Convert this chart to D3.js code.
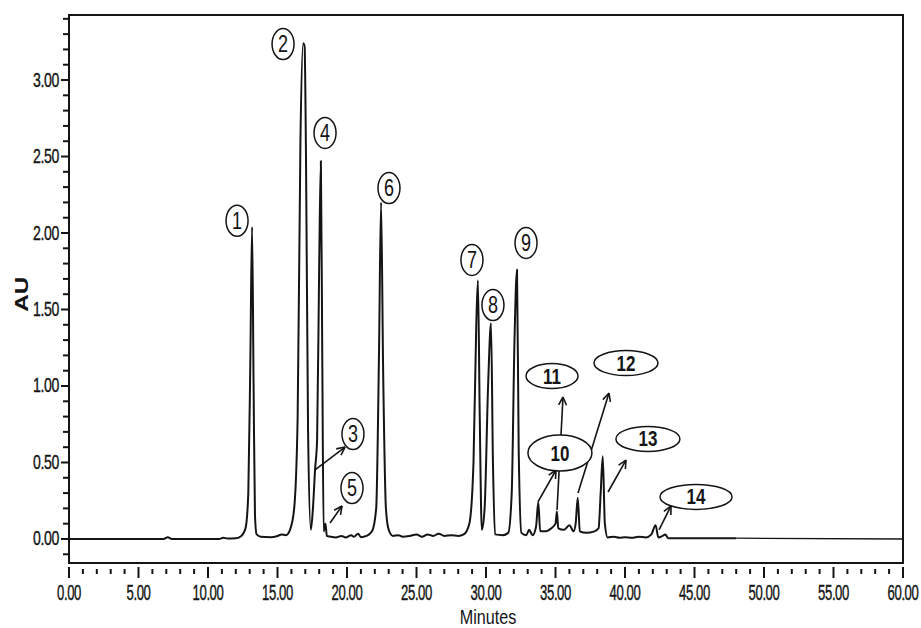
<!DOCTYPE html>
<html>
<head>
<meta charset="utf-8">
<script src="https://cdn.jsdelivr.net/npm/d3@7"></script>
<style>
  html, body { margin: 0; padding: 0; background: #fff; }
  svg { display: block; }
</style>
</head>
<body>
<svg id="chart" width="921" height="628"></svg>
<script>
// ---- Data ----
// Trace: retention time (min) and absorbance (AU)
const traceTime = [0, 6.8, 7.1, 7.4, 10.8, 11.1, 11.4, 12.0, 12.4, 12.7, 12.9, 13.05, 13.17, 13.28, 13.38, 13.5, 13.8, 14.5, 15.0, 15.3, 15.6, 15.9,
  16.2, 16.45, 16.65, 16.85, 16.95, 17.05, 17.2, 17.4, 17.55, 17.7, 17.85, 18.0, 18.12, 18.22, 18.32, 18.45, 18.55, 18.8, 19.2, 19.6, 19.9,
  20.3, 20.5, 20.8, 21.0, 21.4, 21.8, 22.1, 22.3, 22.45, 22.6, 22.8, 23.0, 23.3, 23.7, 24.0, 24.5, 25.0, 25.4, 25.8, 26.2, 26.6, 27.0, 27.5,
  28.0, 28.4, 28.8, 29.1, 29.3, 29.42, 29.55, 29.7, 29.9, 30.15, 30.36, 30.5, 30.65, 31.2, 31.6, 31.85, 32.05, 32.23, 32.35, 32.55, 32.9,
  33.1, 33.35, 33.6, 33.76, 33.9, 34.3, 34.7, 35.0, 35.1, 35.2, 35.6, 36.0, 36.3, 36.45, 36.6, 36.75, 37.2, 37.8, 38.1, 38.25, 38.4, 38.55,
  38.75, 39.2, 39.6, 40.0, 40.5, 41.0, 41.5, 41.9, 42.2, 42.4, 42.7, 42.9, 43.1, 48.0];
const traceAU = [0, 0, 0.012, 0, 0, 0.008, 0.003, 0.005, 0.02, 0.07, 0.3, 1.2, 2.04, 1.0, 0.15, 0.03, 0.015, 0.012, 0.02, 0.03, 0.025, 0.06,
  0.2, 0.8, 2.6, 3.24, 3.22, 2.5, 0.7, 0.06, 0.2, 0.45, 0.65, 1.8, 2.47, 1.2, 0.05, 0.1, 0.02, 0.015, 0.01, 0.02, 0.01,
  0.025, 0.015, 0.035, 0.012, 0.02, 0.05, 0.2, 1.2, 2.2, 1.1, 0.2, 0.06, 0.02, 0.025, 0.015, 0.02, 0.03, 0.015, 0.03, 0.02, 0.035, 0.02, 0.025,
  0.02, 0.03, 0.1, 0.5, 1.4, 1.69, 0.8, 0.06, 0.2, 1.0, 1.41, 0.5, 0.03, 0.025, 0.04, 0.3, 1.3, 1.76, 0.6, 0.04, 0.025,
  0.06, 0.025, 0.08, 0.24, 0.05, 0.05, 0.07, 0.1, 0.18, 0.07, 0.06, 0.09, 0.05, 0.1, 0.27, 0.05, 0.04, 0.05, 0.07, 0.3, 0.54, 0.1,
  0.01, 0.015, 0.008, 0.012, 0.008, 0.015, 0.01, 0.03, 0.09, 0.01, 0.02, 0.03, 0.005, 0.005];
const tailTime = [48.0, 60.0];
const tailAU = [0.005, 0];

// Peak labels: number, label position (min, AU), arrow start and end (min, AU)
const peakIds = ["1", "2", "3", "4", "5", "6", "7", "8", "9", "10", "11", "12", "13", "14"];
const labelTime = [12.09, 15.40, 20.43, 18.42, 20.36, 23.02, 28.99, 30.50, 32.88, 35.32, 34.75, 40.07, 41.65, 45.11];
const labelAU = [2.08, 3.235, 0.686, 2.654, 0.333, 2.294, 1.824, 1.529, 1.935, 0.562, 1.065, 1.150, 0.654, 0.275];
const arrowIds = ["3", "5", "10", "11", "12", "13", "14"];
const arrowFromTime = [17.70, 18.78, 33.74, 35.11, 36.62, 38.78, 42.45];
const arrowFromAU = [0.451, 0.105, 0.242, 0.190, 0.301, 0.307, 0.059];
const arrowToTime = [19.86, 19.64, 35.04, 35.54, 38.85, 40.07, 43.31];
const arrowToAU = [0.601, 0.216, 0.451, 0.928, 0.954, 0.516, 0.216];

// Axis ticks
const xMajorTicks = [0, 5, 10, 15, 20, 25, 30, 35, 40, 45, 50, 55, 60];
const yMajorTicks = [0, 0.5, 1.0, 1.5, 2.0, 2.5, 3.0];
const xTitle = "Minutes";
const yTitle = "AU";

// ---- Drawing ----
const svg = d3.select("#chart");
const x = d3.scaleLinear().domain([0, 60]).range([69, 903]);
const y = d3.scaleLinear().domain([-0.157, 3.425]).range([563, 15]);
const ink = "#141414";
const sans = "'Liberation Sans', Arial, sans-serif";

// Frame
svg.append("rect")
  .attr("x", x(0)).attr("y", y.range()[1])
  .attr("width", x(60) - x(0)).attr("height", y.range()[0] - y.range()[1])
  .attr("fill", "none").attr("stroke", ink).attr("stroke-width", 2);

// Y axis ticks
const yMinor = d3.range(-1, 35).map(i => i / 10);
svg.append("g").selectAll("line").data(yMinor).join("line")
  .attr("x1", d => Math.abs(d * 2 - Math.round(d * 2)) < 1e-6 ? x(0) - 8 : x(0) - 6)
  .attr("x2", x(0))
  .attr("y1", d => y(d)).attr("y2", d => y(d))
  .attr("stroke", ink).attr("stroke-width", 2);
svg.append("g").selectAll("text").data(yMajorTicks).join("text")
  .attr("transform", d => `translate(${x(0) - 10},${y(d) + 6.5}) scale(0.88,1.25)`)
  .attr("text-anchor", "end")
  .attr("font-family", sans).attr("font-size", 16).attr("fill", ink)
  .attr("stroke", ink).attr("stroke-width", 0.3)
  .attr("letter-spacing", -0.4)
  .text(d => d.toFixed(2));

// X axis ticks (drawn as a separate row below the frame)
const xMinor = d3.range(0, 61);
svg.append("g").selectAll("line").data(xMinor).join("line")
  .attr("x1", d => x(d)).attr("x2", d => x(d))
  .attr("y1", d => d % 5 === 0 ? y.range()[0] + 4 : y.range()[0] + 6)
  .attr("y2", d => d % 5 === 0 ? y.range()[0] + 15 : y.range()[0] + 11)
  .attr("stroke", ink).attr("stroke-width", 2);
svg.append("g").selectAll("text").data(xMajorTicks).join("text")
  .attr("transform", d => `translate(${x(d)},${y.range()[0] + 37}) scale(0.82,1.35)`)
  .attr("text-anchor", "middle")
  .attr("font-family", sans).attr("font-size", 16).attr("fill", ink)
  .attr("stroke", ink).attr("stroke-width", 0.3)
  .attr("letter-spacing", -0.5)
  .text(d => d.toFixed(2));

// Axis titles
svg.append("text")
  .attr("transform", `translate(${(x(0) + x(60)) / 2 + 2},${y.range()[0] + 61}) scale(0.95,1.15)`)
  .attr("text-anchor", "middle")
  .attr("font-family", sans).attr("font-size", 17).attr("fill", ink)
  .text(xTitle);
svg.append("text")
  .attr("transform", `translate(28,${y(1.6)}) rotate(-90) scale(1.35,1)`)
  .attr("text-anchor", "middle")
  .attr("font-family", sans).attr("font-weight", "bold").attr("font-size", 18).attr("fill", ink)
  .text(yTitle);

// Chromatogram trace
const line = d3.line().x(d => x(d[0])).y(d => y(d[1])).curve(d3.curveMonotoneX);
svg.append("path")
  .datum(traceTime.map((t, i) => [t, traceAU[i]]))
  .attr("d", line)
  .attr("fill", "none").attr("stroke", ink).attr("stroke-width", 2).attr("stroke-linejoin", "round");
svg.append("path")
  .datum(tailTime.map((t, i) => [t, tailAU[i]]))
  .attr("d", line)
  .attr("fill", "none").attr("stroke", ink).attr("stroke-width", 1.3);

// Arrows
const arrowData = arrowIds.map((id, i) => ({
  x1: x(arrowFromTime[i]), y1: y(arrowFromAU[i]),
  x2: x(arrowToTime[i]), y2: y(arrowToAU[i])
}));
const ag = svg.append("g").attr("stroke", ink).attr("stroke-width", 1.6).attr("fill", "none");
arrowData.forEach(a => {
  ag.append("line").attr("x1", a.x1).attr("y1", a.y1).attr("x2", a.x2).attr("y2", a.y2);
  const ang = Math.atan2(a.y2 - a.y1, a.x2 - a.x1);
  const L = 9, spread = 0.45;
  [-spread, spread].forEach(s => {
    ag.append("line")
      .attr("x1", a.x2).attr("y1", a.y2)
      .attr("x2", a.x2 - L * Math.cos(ang + s))
      .attr("y2", a.y2 - L * Math.sin(ang + s));
  });
});

// Peak labels
const lg = svg.append("g");
peakIds.forEach((id, i) => {
  const cx = x(labelTime[i]), cy = y(labelAU[i]);
  const big = +id >= 10;
  const rx = big ? (id === "14" ? 36 : id === "11" ? 26 : 32) : 11;
  const ry = big ? (id === "10" ? 18 : 12.5) : 15.5;
  lg.append("ellipse")
    .attr("cx", cx).attr("cy", cy).attr("rx", rx).attr("ry", ry)
    .attr("fill", "#fff").attr("stroke", ink).attr("stroke-width", 1.5);
  lg.append("text")
    .attr("transform", `translate(${cx},${cy + (big ? 7.5 : 8)}) scale(1,1.3)`)
    .attr("text-anchor", "middle")
    .attr("font-family", sans)
    .attr("font-weight", big ? "bold" : "normal")
    .attr("font-size", big ? 17 : 18)
    .attr("fill", ink)
    .text(id);
});
</script>
</body>
</html>
